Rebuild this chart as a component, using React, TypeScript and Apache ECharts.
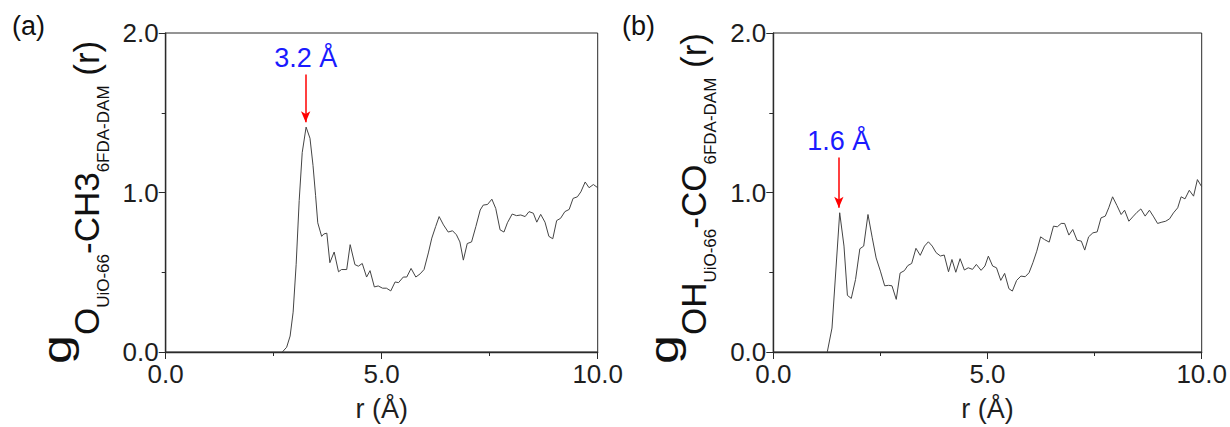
import React, { useEffect, useRef } from "react";
import * as echarts from "echarts";

const FONT = 'Arial, "Liberation Sans", Helvetica, sans-serif';

// Panel (a): g O(UiO-66) - CH3(6FDA-DAM)
const rA = [2.70, 2.80, 2.88, 2.95, 3.02, 3.09, 3.16, 3.25, 3.34, 3.41, 3.47, 3.52, 3.61, 3.66, 3.73, 3.80, 3.90, 4.00, 4.07, 4.19, 4.27, 4.38, 4.46, 4.55, 4.65, 4.73, 4.83, 4.92, 5.02, 5.11, 5.21, 5.31, 5.39, 5.50, 5.58, 5.68, 5.79, 5.89, 5.98, 6.08, 6.16, 6.25, 6.33, 6.43, 6.54, 6.64, 6.73, 6.81, 6.89, 6.98, 7.08, 7.18, 7.28, 7.35, 7.45, 7.55, 7.64, 7.74, 7.83, 7.91, 8.02, 8.12, 8.22, 8.32, 8.41, 8.51, 8.59, 8.68, 8.78, 8.87, 8.96, 9.05, 9.14, 9.24, 9.34, 9.43, 9.53, 9.61, 9.71, 9.80, 9.90, 10.0];
const gA = [0, 0.03, 0.10, 0.25, 0.55, 0.95, 1.25, 1.41, 1.34, 1.17, 0.98, 0.81, 0.725, 0.74, 0.745, 0.56, 0.627, 0.503, 0.517, 0.517, 0.673, 0.548, 0.538, 0.555, 0.47, 0.51, 0.408, 0.414, 0.40, 0.40, 0.383, 0.439, 0.435, 0.47, 0.47, 0.524, 0.47, 0.49, 0.517, 0.621, 0.714, 0.787, 0.849, 0.797, 0.752, 0.76, 0.735, 0.69, 0.576, 0.68, 0.69, 0.787, 0.89, 0.921, 0.925, 0.958, 0.90, 0.766, 0.752, 0.81, 0.865, 0.855, 0.859, 0.849, 0.88, 0.87, 0.814, 0.863, 0.814, 0.725, 0.71, 0.824, 0.838, 0.88, 0.894, 0.963, 0.973, 1.004, 1.066, 1.03, 1.05, 1.03];

// Panel (b): g OH(UiO-66) - CO(6FDA-DAM)
const rB = [1.26, 1.37, 1.55, 1.65, 1.73, 1.82, 1.92, 2.02, 2.11, 2.21, 2.31, 2.40, 2.50, 2.60, 2.69, 2.77, 2.87, 2.96, 3.06, 3.14, 3.23, 3.33, 3.43, 3.53, 3.62, 3.71, 3.80, 3.90, 3.99, 4.09, 4.17, 4.26, 4.36, 4.46, 4.55, 4.65, 4.74, 4.85, 4.94, 5.02, 5.12, 5.21, 5.31, 5.40, 5.50, 5.58, 5.68, 5.78, 5.88, 5.97, 6.06, 6.15, 6.24, 6.33, 6.44, 6.54, 6.63, 6.72, 6.80, 6.90, 6.99, 7.09, 7.19, 7.27, 7.36, 7.46, 7.56, 7.65, 7.75, 7.83, 7.92, 8.02, 8.12, 8.20, 8.30, 8.39, 8.49, 8.58, 8.68, 8.78, 8.88, 8.97, 9.07, 9.16, 9.25, 9.34, 9.44, 9.52, 9.61, 9.71, 9.81, 9.90, 10.0];
const gB = [0, 0.15, 0.873, 0.664, 0.355, 0.336, 0.455, 0.647, 0.664, 0.862, 0.716, 0.59, 0.507, 0.415, 0.418, 0.415, 0.33, 0.495, 0.51, 0.542, 0.555, 0.65, 0.606, 0.664, 0.691, 0.664, 0.623, 0.602, 0.608, 0.503, 0.58, 0.50, 0.585, 0.514, 0.528, 0.518, 0.549, 0.512, 0.539, 0.601, 0.539, 0.528, 0.449, 0.493, 0.397, 0.382, 0.449, 0.476, 0.472, 0.497, 0.560, 0.632, 0.722, 0.705, 0.689, 0.789, 0.785, 0.806, 0.806, 0.733, 0.768, 0.701, 0.695, 0.639, 0.722, 0.747, 0.753, 0.841, 0.852, 0.904, 0.973, 0.919, 0.862, 0.889, 0.82, 0.847, 0.876, 0.897, 0.852, 0.889, 0.847, 0.806, 0.814, 0.82, 0.835, 0.872, 0.904, 0.973, 0.96, 1.014, 0.977, 1.081, 1.036];

// Peak annotations: [r, arrow start g, arrow end g, text]
const peakR = [3.24, 1.53];
const arrowFrom = [1.74, 1.22];
const arrowTo = [1.44, 0.905];
const peakText = ["3.2 Å", "1.6 Å"];

const panelLabels = ["(a)", "(b)"];
const xTicks = { min: 0, max: 10, interval: 5 };
const yTicks = { min: 0, max: 2, interval: 1 };
const xName = "r (Å)";

// y-axis label pieces: [text, level] (0 = main g, 1 = subscript, 2 = sub-subscript)
const yLabelA: [string, number][] = [["g", 0], ["O", 1], ["UiO-66", 2], ["-CH3", 1], ["6FDA-DAM", 2], [" (r)", 1]];
const yLabelB: [string, number][] = [["g", 0], ["OH", 1], ["UiO-66", 2], ["-CO", 1], ["6FDA-DAM", 2], [" (r)", 1]];

const grids = [
  { left: 165.7, top: 33, width: 432, height: 322 },
  { left: 773.3, top: 33, width: 430, height: 319.7 },
];

function measure(text: string, size: number): number {
  const c = document.createElement("canvas").getContext("2d");
  if (!c) return text.length * size * 0.55;
  c.font = `${size}px ${FONT}`;
  return c.measureText(text).width;
}

function buildYLabel(x0: number, y0: number, parts: [string, number][]) {
  const sizes = [40, 35, 17];
  const baselines = [71, 99, 109];
  const scales = [1.3, 1, 1];
  let u = 0;
  const children: any[] = [];
  parts.forEach(([t, lvl]) => {
    const F = sizes[lvl];
    const w = measure(t, F) * scales[lvl];
    children.push({
      type: "text",
      x: u,
      y: baselines[lvl] - 0.35 * F,
      scaleX: scales[lvl],
      style: {
        text: t,
        font: `${F}px ${FONT}`,
        fill: "#111",
        align: "left",
        verticalAlign: "middle",
      },
    });
    u += w;
  });
  return { type: "group", x: x0, y: y0, rotation: Math.PI / 2, children };
}

export default function App() {
  const ref = useRef<HTMLDivElement>(null);
  useEffect(() => {
    if (!ref.current) return;
    const chart = echarts.init(ref.current, null, { renderer: "svg" });
    const axisColor = "#2a2a2a";
    const datasets = [
      rA.map((r, i) => [r, gA[i]]),
      rB.map((r, i) => [r, gB[i]]),
    ];
    const option: any = {
      animation: false,
      backgroundColor: "#ffffff",
      textStyle: { fontFamily: FONT },
      grid: grids.map((g) => ({ ...g, show: true, borderColor: axisColor, borderWidth: 1, backgroundColor: "transparent" })),
      xAxis: grids.map((_, i) => ({
        gridIndex: i,
        type: "value",
        min: xTicks.min,
        max: xTicks.max,
        interval: xTicks.interval,
        axisLine: { show: true, onZero: false, lineStyle: { color: axisColor, width: 1.4 } },
        axisTick: { show: true, length: 7, lineStyle: { color: axisColor } },
        minorTick: { show: true, splitNumber: 2, length: 4, lineStyle: { color: axisColor } },
        splitLine: { show: false },
        axisLabel: { formatter: (v: number) => v.toFixed(1), fontSize: 26, color: "#1e1e1e", margin: 9, fontFamily: FONT },
        name: xName,
        nameLocation: "middle",
        nameGap: 43,
        nameTextStyle: { fontSize: 27, color: "#1e1e1e", fontFamily: FONT },
      })),
      yAxis: grids.map((_, i) => ({
        gridIndex: i,
        type: "value",
        min: yTicks.min,
        max: yTicks.max,
        interval: yTicks.interval,
        axisLine: { show: true, onZero: false, lineStyle: { color: axisColor, width: 1.4 } },
        axisTick: { show: true, length: 7, lineStyle: { color: axisColor } },
        minorTick: { show: true, splitNumber: 2, length: 4, lineStyle: { color: axisColor } },
        splitLine: { show: false },
        axisLabel: { formatter: (v: number) => v.toFixed(1), fontSize: 26, color: "#1e1e1e", margin: 7, fontFamily: FONT },
      })),
      series: datasets.map((d, i) => ({
        type: "line",
        xAxisIndex: i,
        yAxisIndex: i,
        data: d,
        showSymbol: false,
        symbol: "none",
        lineStyle: { color: "#444", width: 1 },
        markLine: {
          silent: true,
          symbol: ["none", "arrow"],
          symbolSize: [7, 11],
          lineStyle: { color: "#ff0000", width: 1.5, type: "solid" },
          label: {
            show: true,
            position: "start",
            formatter: peakText[i],
            color: "#1a1aff",
            fontSize: 27,
            distance: 3,
            fontFamily: FONT,
          },
          data: [[{ coord: [peakR[i], arrowFrom[i]] }, { coord: [peakR[i], arrowTo[i]] }]],
        },
      })),
      graphic: [
        { type: "text", left: 12, top: 12, style: { text: panelLabels[0], font: `27px ${FONT}`, fill: "#111" } },
        { type: "text", left: 622, top: 12, style: { text: panelLabels[1], font: `27px ${FONT}`, fill: "#111" } },
        buildYLabel(0, 364, yLabelA),
        buildYLabel(607, 364, yLabelB),
      ],
    };
    chart.setOption(option);
    return () => chart.dispose();
  }, []);
  return (
    <div
      ref={ref}
      style={{ position: "absolute", left: 0, top: 0, width: 1230, height: 427 }}
    />
  );
}
